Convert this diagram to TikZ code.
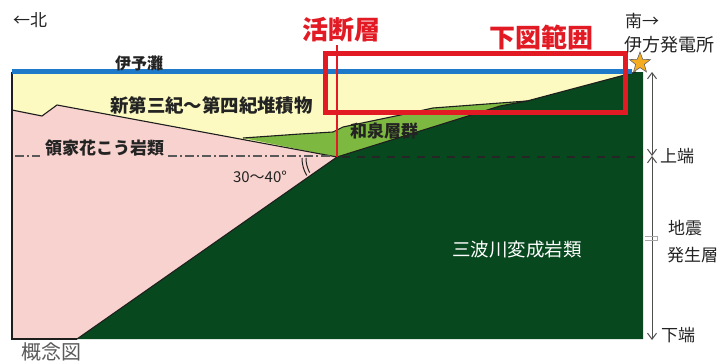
\documentclass[tikz,border=0pt]{standalone}
\usepackage{fontspec}
\setmainfont{Noto Sans CJK JP}
\usetikzlibrary{arrows.meta,shapes.geometric}

\definecolor{seablue}{RGB}{30,122,200}
\definecolor{sediment}{RGB}{252,250,192}
\definecolor{granite}{RGB}{248,210,206}
\definecolor{izumi}{RGB}{125,185,65}
\definecolor{sanbagawa}{RGB}{8,72,30}
\definecolor{faultred}{RGB}{226,26,36}
\definecolor{ink}{RGB}{35,35,35}
\definecolor{starfill}{RGB}{246,172,32}

\tikzset{
  label/.style={text=ink, inner sep=0pt, font=\fontsize{17}{17}\selectfont},
  boldlabel/.style={label, font=\fontsize{17}{17}\selectfont\bfseries},
  redlabel/.style={text=faultred, inner sep=0pt, font=\fontsize{26}{26}\selectfont\bfseries},
  boundary/.style={draw=ink!85!black, line width=1.1pt},
  rangearrow/.style={draw=ink!80, line width=1pt, {Straight Barb[length=6pt,width=9pt]}-{Straight Barb[length=6pt,width=9pt]}},
  dashdot/.style={draw=black!65, line width=1.4pt, dash pattern=on 9pt off 3pt on 2pt off 3pt},
}

\begin{document}
\begin{tikzpicture}[x=1pt,y=-1pt]
  \useasboundingbox[fill=white] (0,0) rectangle (724,364);

  % sediments fill the whole section first
  \fill[sediment] (12,72) rectangle (643,339);

  % Ryoke granite
  \fill[granite] (12,110) -- (42,116) -- (57,105) -- (337,157) -- (77,339) -- (12,339) -- cycle;

  % Izumi group wedge
  \fill[izumi] (243,138) -- (300,134) -- (333,132) -- (343,127) -- (410,113) -- (433,108)
     -- (527,101) -- (500,106) -- (337,157) -- cycle;

  % Sanbagawa metamorphic rocks
  \fill[sanbagawa] (77,339) -- (337,157) -- (500,106) -- (527,101) -- (636,72) -- (643,72)
     -- (643,339) -- cycle;

  % layer boundaries
  \draw[boundary] (12,110) -- (42,116) -- (57,105) -- (337,157);
  \draw[boundary] (243,138) -- (300,134) -- (333,132) -- (343,127) -- (410,113) -- (433,108) -- (527,101);
  \draw[boundary] (77,339) -- (337,157) -- (500,106) -- (527,101) -- (636,72);
  \draw[boundary] (12,72) -- (12,339) -- (77,339);

  % sea surface
  \draw[seablue, line width=5pt] (12,71.5) -- (632,71.5);

  % upper limit of the seismogenic layer
  \draw[dashdot] (15,156) -- (40,156);
  \draw[dashdot] (168,156) -- (333,156);
  \draw[black!85, line width=1.2pt, dash pattern=on 8pt off 7pt] (342,157) -- (643,157);

  % dip angle mark
  \draw[ink, line width=1pt] (302,158) arc[start angle=180, end angle=150, radius=35];
  \draw[ink, line width=1pt] (306,158) arc[start angle=180, end angle=152, radius=31];

  % fault trace and detail range
  \draw[faultred, line width=2.6pt] (337,45) -- (337,157);
  \draw[faultred, line width=5pt] (325,53) rectangle (625,112);

  % labels
  \node[label] (north) at (30,20) {←北};
  \node[label, anchor=west] (south) at (625,21) {南→};
  \node[label, anchor=west, font=\fontsize{18}{18}\selectfont] (plant) at (624,45) {伊方発電所};
  \node[redlabel] (fault) at (341,30) {活断層};
  \node[redlabel] (range) at (541,38) {下図範囲};
  \node[boldlabel, font=\fontsize{16}{16}\selectfont\bfseries] (sea) at (139,63) {伊予灘};
  \node[boldlabel, anchor=west, font=\fontsize{18.4}{18}\selectfont\bfseries] (sed) at (110,105) {新第三紀～第四紀堆積物};
  \node[boldlabel, anchor=west] (izumilbl) at (350,131) {和泉層群};
  \node[boldlabel, anchor=west] (granitelbl) at (45,148) {領家花こう岩類};
  \node[label, font=\fontsize{15}{15}\selectfont] (angle) at (260,177) {30～40°};
  \node[label, text=white, font=\fontsize{18.5}{18}\selectfont] (sanba) at (517,250) {三波川変成岩類};
  \node[label, text=ink!75, font=\fontsize{20}{20}\selectfont] (concept) at (51,352) {概念図};

  % Ikata power station
  \node[star, star points=5, star point ratio=2.4, minimum size=22pt, inner sep=0pt,
        fill=starfill, draw=ink!70, line width=0.6pt] (ikata) at (640,63) {};

  % seismogenic layer range
  \coordinate (surf) at (652,72);
  \coordinate (upper) at (652,156);
  \coordinate (lower) at (652,340);
  \draw[rangearrow] (surf) -- (upper);
  \draw[rangearrow] (upper) -- (lower);
  \draw[black!35, line width=1pt] (645,236) -- (657,236) -- (657,240) -- (645,240);
  \node[label, anchor=west] (uplbl) at (660,156) {上端};
  \node[label, anchor=west] (eq1) at (668,228) {地震};
  \node[label, anchor=west] (eq2) at (667,255) {発生層};
  \node[label, anchor=west] (lowlbl) at (661,335) {下端};
\end{tikzpicture}
\end{document}
